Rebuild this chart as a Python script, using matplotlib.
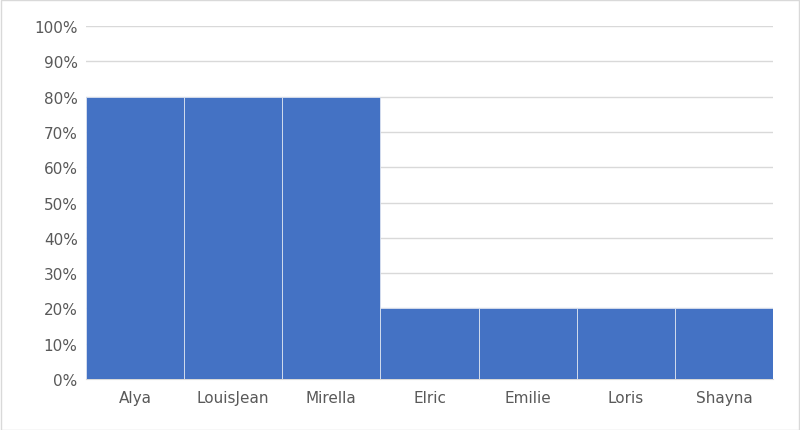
import matplotlib
matplotlib.use("Agg")
import matplotlib.pyplot as plt
from matplotlib.ticker import PercentFormatter

names = ["Alya", "LouisJean", "Mirella", "Elric", "Emilie", "Loris", "Shayna"]
values = [0.8, 0.8, 0.8, 0.2, 0.2, 0.2, 0.2]

fig = plt.figure(figsize=(8, 4.31), dpi=100)
ax = fig.add_axes([0.1075, 0.1183, 0.8588, 0.8187])
x = range(len(names))
ax.bar(x, values, width=1.0, color="#4472C4", edgecolor="#dce3f0", linewidth=0.6, zorder=3)
ax.set_xlim(-0.5, len(names) - 0.5)
ax.set_ylim(0, 1)
ax.set_yticks([i / 10 for i in range(11)])
ax.yaxis.set_major_formatter(PercentFormatter(1.0, decimals=0))
ax.set_xticks(list(x))
ax.set_xticklabels(names)
ax.grid(axis="y", color="#d9d9d9", linewidth=1, zorder=0)
for s in ["top", "right", "left"]:
    ax.spines[s].set_visible(False)
ax.spines["bottom"].set_color("#d9d9d9")
ax.tick_params(length=0, labelsize=11, colors="#595959", pad=8)
ax.tick_params(axis="y", pad=6)
fig.patches.append(plt.Rectangle((0.001, 0.001), 0.998, 0.997, transform=fig.transFigure,
                                 fill=False, edgecolor="#d9d9d9", linewidth=1))
fig.savefig("out.png", dpi=100)
